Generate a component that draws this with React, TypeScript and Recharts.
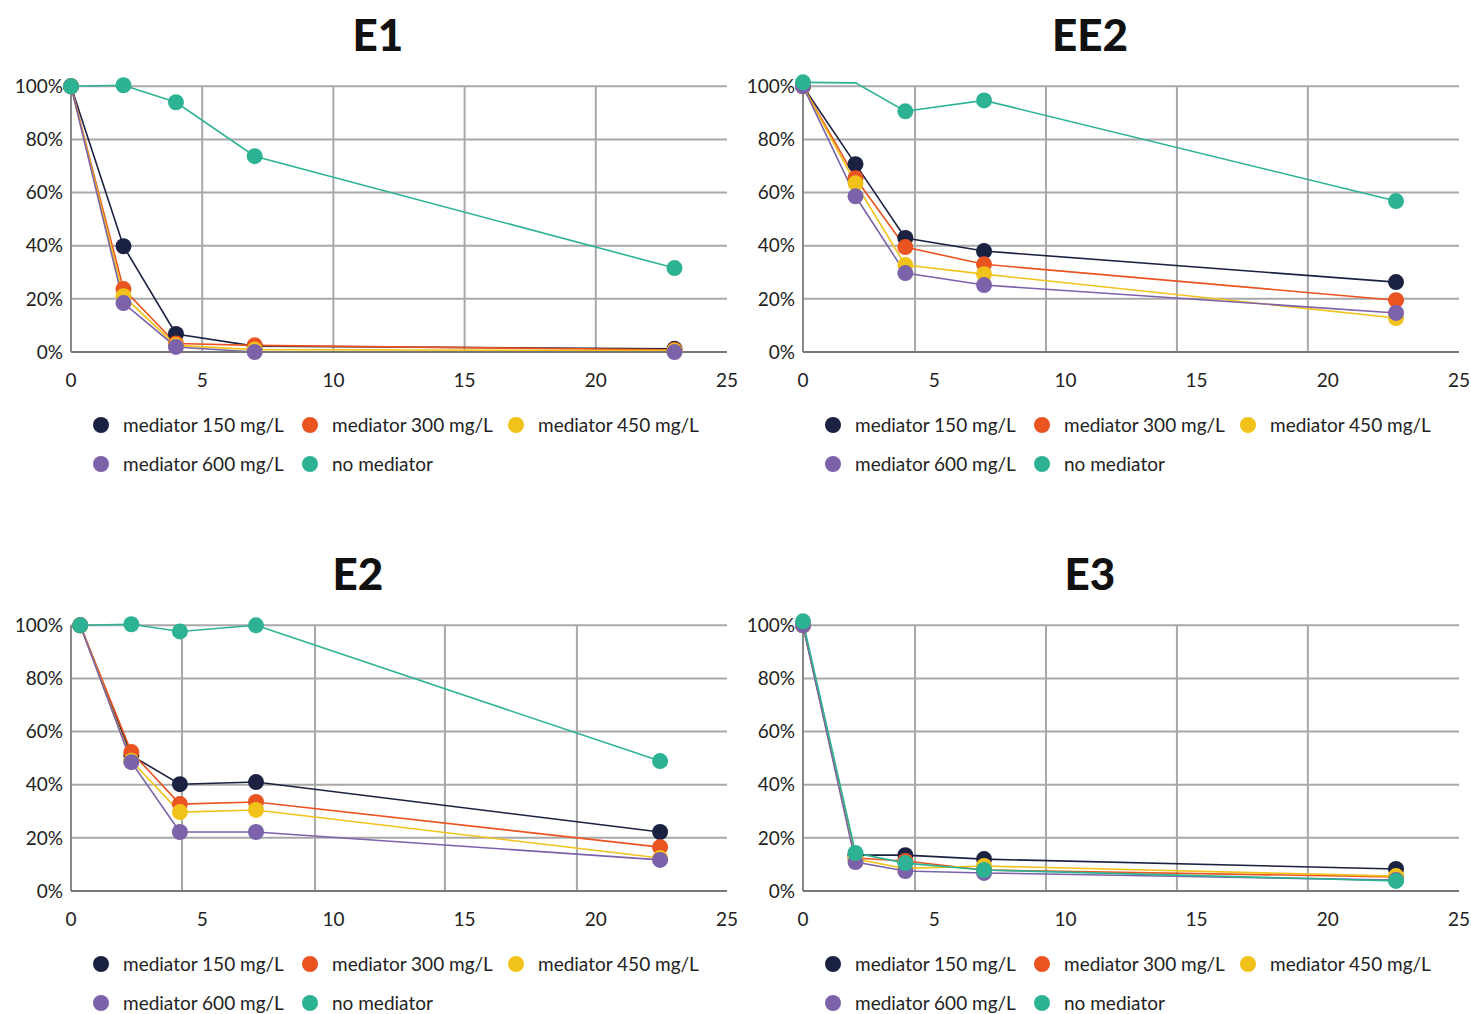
import { Line, LineChart, ReferenceLine, XAxis, YAxis } from 'recharts'

const seriesNames = ['mediator 150 mg/L', 'mediator 300 mg/L', 'mediator 450 mg/L', 'mediator 600 mg/L', 'no mediator']
const seriesColors = ['#1b2141', '#e95420', '#f1c31a', '#7b62a9', '#2db394']

const xTicks = [0, 5, 10, 15, 20, 25]
const yTicks = [0, 20, 40, 60, 80, 100]

// E1
const e1Days = [0, 2, 4, 7, 23]
const e1M150 = [100, 39.8, 6.8, 2.2, 1.2]
const e1M300 = [100, 23.7, 3.2, 2.5, 0.8]
const e1M450 = [100, 21, 2.5, 0.9, 0.5]
const e1M600 = [100, 18.4, 1.9, 0, 0]
const e1None = [100, 100.4, 94, 73.7, 31.6]
const e1Grid = [5, 10, 15, 20]

// EE2
const ee2Days = [0, 2, 3.9, 6.9, 22.6]
const ee2M150 = [100, 70.7, 42.9, 38, 26.3]
const ee2M300 = [100, 65.4, 39.5, 33, 19.5]
const ee2M450 = [100, 63.5, 32.7, 29.3, 12.8]
const ee2M600 = [100, 58.6, 29.7, 25.2, 14.7]
const ee2None = [101.5, 101.3, 90.6, 94.7, 56.8]
const ee2Grid = [4.27, 9.26, 14.25, 19.24]

// E2
const e2Days = [0.35, 2.3, 4.15, 7.05, 22.45]
const e2M150 = [100, 51, 40.2, 41, 22.2]
const e2M300 = [100, 52.3, 32.7, 33.5, 16.5]
const e2M450 = [100, 49, 29.7, 30.5, 12.4]
const e2M600 = [100, 48.5, 22.2, 22.2, 11.7]
const e2None = [100, 100.4, 97.7, 100, 48.9]
const e2Grid = [4.23, 9.3, 14.25, 19.28]

// E3
const e3Days = [0, 2, 3.9, 6.9, 22.6]
const e3M150 = [100, 13.5, 13.5, 12, 8.3]
const e3M300 = [100, 12.4, 11.3, 7.9, 5.3]
const e3M450 = [100, 12, 8.5, 9.4, 5.6]
const e3M600 = [100, 10.9, 7.5, 6.8, 4.1]
const e3None = [101.5, 14.3, 10.5, 7.9, 3.8]
const e3Grid = [4.27, 9.26, 14.25, 19.24]

const font = 'Lato, "Open Sans", sans-serif'
const textColor = '#222'
const gridColor = '#a8a8a8'

type PanelProps = {
  title: string
  titleX: number
  left: number
  top: number
  days: number[]
  series: number[][]
  grid: number[]
  hiddenDots?: Array<[number, number]>
}

const Panel = ({ title, titleX, left, top, days, series, grid, hiddenDots = [] }: PanelProps) => {
  const data = days.map((d, i) => {
    const row: Record<string, number> = { day: d }
    series.forEach((s, k) => {
      row['s' + k] = s[i]
    })
    return row
  })

  return (
    <div style={{ position: 'absolute', left, top, width: 739, height: 539, fontFamily: font }}>
      <div
        style={{
          position: 'absolute',
          left: titleX - left - 150,
          width: 300,
          top: 10,
          textAlign: 'center',
          fontSize: 44,
          lineHeight: '48px',
          fontWeight: 900,
          color: '#111',
        }}
      >
        {title}
      </div>
      <div style={{ position: 'absolute', left: 0, top: 60 }}>
        <LineChart width={739} height={340} data={data} margin={{ top: 21, right: 12, bottom: 18, left: 11 }}>
          {yTicks.map((t) => (
            <ReferenceLine
              key={'h' + t}
              segment={[
                { x: 0, y: t },
                { x: 25, y: t },
              ]}
              stroke={gridColor}
              strokeWidth={2}
            />
          ))}
          {grid.map((g) => (
            <ReferenceLine
              key={'v' + g}
              segment={[
                { x: g, y: 0 },
                { x: g, y: 100 },
              ]}
              stroke={gridColor}
              strokeWidth={2}
            />
          ))}
          <ReferenceLine
            segment={[
              { x: 0, y: 0 },
              { x: 0, y: 100 },
            ]}
            stroke="#888"
            strokeWidth={2}
          />
          <XAxis
            dataKey="day"
            type="number"
            domain={[0, 25]}
            ticks={xTicks}
            height={30}
            tickLine={false}
            tickMargin={16}
            axisLine={{ stroke: '#777', strokeWidth: 2 }}
            tick={{ fontSize: 19, fill: textColor, fontFamily: font }}
          />
          <YAxis
            type="number"
            domain={[0, 102]}
            ticks={yTicks}
            width={60}
            tickLine={false}
            axisLine={false}
            tickFormatter={(v) => `${v}%`}
            tick={{ fontSize: 19, fill: textColor, fontFamily: font }}
          />
          {series.map((_, k) => (
            <Line
              key={k}
              dataKey={'s' + k}
              type="linear"
              stroke={seriesColors[k]}
              strokeWidth={1.6}
              isAnimationActive={false}
              dot={(p: any) =>
                hiddenDots.some(([sk, idx]) => sk === k && idx === p.index) ? (
                  <g key={p.key} />
                ) : (
                  <circle key={p.key} cx={p.cx} cy={p.cy} r={8} fill={seriesColors[k]} stroke="none" />
                )
              }
              activeDot={false}
            />
          ))}
        </LineChart>
      </div>
      <div
        style={{
          position: 'absolute',
          left: 93,
          top: 405,
          display: 'grid',
          gridTemplateColumns: '209px 206px 220px',
          gridAutoRows: '39px',
        }}
      >
        {seriesNames.map((name, k) => (
          <div key={name} style={{ display: 'flex', alignItems: 'center' }}>
            <span
              style={{
                width: 16,
                height: 16,
                borderRadius: 8,
                background: seriesColors[k],
                display: 'inline-block',
                flex: 'none',
              }}
            />
            <span style={{ marginLeft: 14, fontSize: 19, color: textColor, whiteSpace: 'nowrap' }}>{name}</span>
          </div>
        ))}
      </div>
    </div>
  )
}

export default function App() {
  return (
    <div style={{ position: 'absolute', left: 0, top: 0, width: 1471, height: 1014, background: '#fff', overflow: 'hidden' }}>
      <Panel
        title="E1"
        titleX={378}
        left={0}
        top={0}
        days={e1Days}
        series={[e1M150, e1M300, e1M450, e1M600, e1None]}
        grid={e1Grid}
      />
      <Panel
        title="EE2"
        titleX={1090}
        left={732}
        top={0}
        days={ee2Days}
        series={[ee2M150, ee2M300, ee2M450, ee2M600, ee2None]}
        grid={ee2Grid}
        hiddenDots={[[4, 1]]}
      />
      <Panel
        title="E2"
        titleX={358}
        left={0}
        top={539}
        days={e2Days}
        series={[e2M150, e2M300, e2M450, e2M600, e2None]}
        grid={e2Grid}
      />
      <Panel
        title="E3"
        titleX={1090}
        left={732}
        top={539}
        days={e3Days}
        series={[e3M150, e3M300, e3M450, e3M600, e3None]}
        grid={e3Grid}
      />
    </div>
  )
}
